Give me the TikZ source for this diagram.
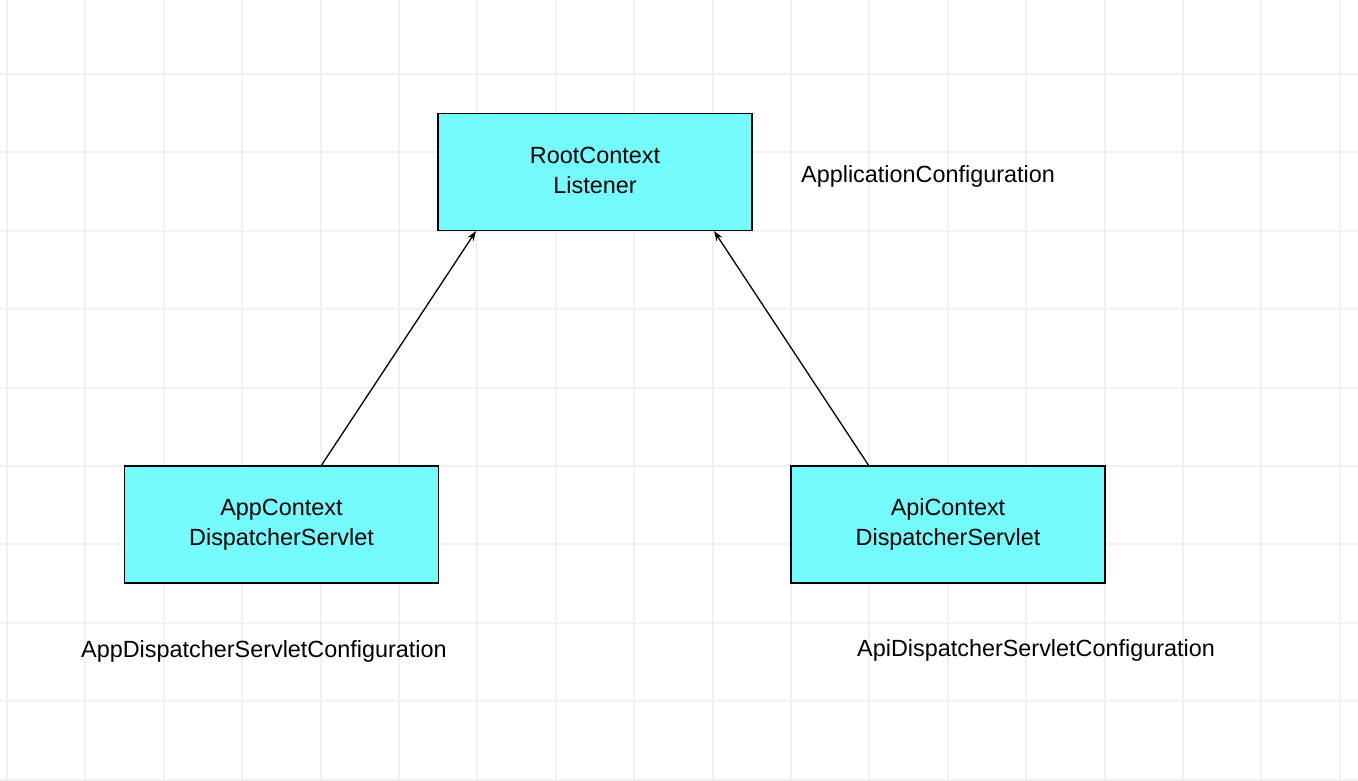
\documentclass[tikz,border=0pt]{standalone}
\usepackage{fontspec}
\setmainfont{Liberation Sans}
\usetikzlibrary{arrows.meta}
\definecolor{gridc}{HTML}{F1F1F1}
\definecolor{boxc}{HTML}{74FBFD}
\begin{document}
\begin{tikzpicture}[x=1pt,y=-1pt,
  box/.style={draw=black,line width=1.8pt,fill=boxc,minimum width=314pt,minimum height=117pt,inner sep=0pt,align=center,font=\fontsize{23.4}{30}\selectfont},
  lbl/.style={inner sep=0pt,font=\fontsize{23.4}{28}\selectfont},
  conn/.style={line width=1.3pt,-{Stealth[length=10pt,width=7pt]}}]
\useasboundingbox (0,0) rectangle (1358,780);
\fill[white] (0,0) rectangle (1358,780);
\foreach \i in {0,...,17} {\draw[gridc,line width=2pt] ({7+78.4*\i},0) -- ({7+78.4*\i},780);}
\foreach \j in {0,...,9} {\draw[gridc,line width=2pt] (0,{74+78.4*\j}) -- (1358,{74+78.4*\j});}
\node[box,text depth=4pt] (root) at (595,172) {RootContext\\Listener};
\node[box,text depth=4pt] (app) at (281.5,524.5) {AppContext\\DispatcherServlet};
\node[box,text depth=4pt] (api) at (948,524.5) {ApiContext\\DispatcherServlet};
\node[lbl,anchor=west] (l1) at (801,176) {ApplicationConfiguration};
\node[lbl,anchor=west] (l2) at (81,651) {AppDispatcherServletConfiguration};
\node[lbl,anchor=west] (l3) at (857,650) {ApiDispatcherServletConfiguration};
\coordinate (r1) at (476,231);
\coordinate (r2) at (714,231);
\coordinate (a1) at (321,466);
\coordinate (a2) at (869,466);
\draw[conn] (a1) -- (r1);
\draw[conn] (a2) -- (r2);
\end{tikzpicture}
\end{document}
